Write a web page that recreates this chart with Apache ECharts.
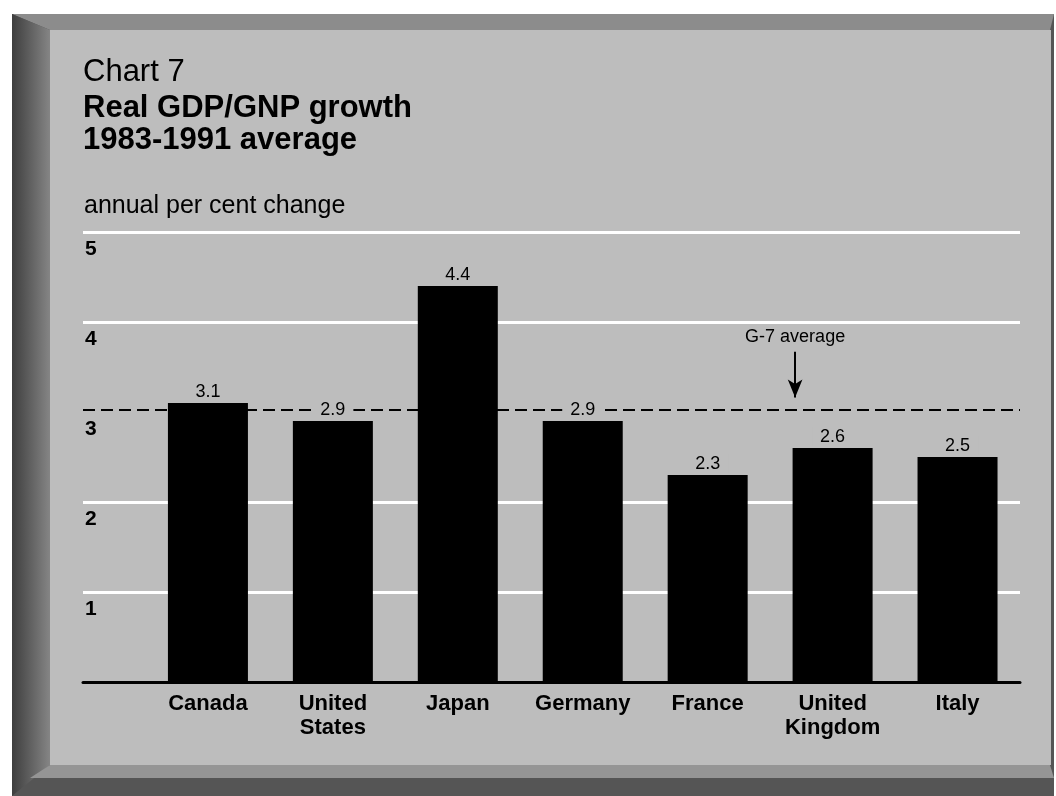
<!DOCTYPE html>
<html>
<head>
<meta charset="utf-8">
<script src="https://cdn.jsdelivr.net/npm/echarts@6/dist/echarts.min.js"></script>
<style>
  html, body { margin: 0; padding: 0; background: #fff; }
  #chart { width: 1056px; height: 796px; }
</style>
</head>
<body>
<div id="chart"></div>
<script>
// data
const countries = ["Canada", "United\nStates", "Japan", "Germany", "France", "United\nKingdom", "Italy"];
const growth = [3.1, 2.9, 4.4, 2.9, 2.3, 2.6, 2.5];
const g7Average = 3.03;
const yTicks = [0, 1, 2, 3, 4, 5];

const font = "'Liberation Sans', Arial, Helvetica, sans-serif";
const panel = "#bdbdbd";

const chart = echarts.init(document.getElementById("chart"));

const barData = growth.map((v, i) => [i, v]);

const option = {
  backgroundColor: "#ffffff",
  animation: false,
  textStyle: { fontFamily: font, color: "#000" },
  graphic: [
    // frame: dark base, bevels, light inner panel
    { type: "rect", z: -10, shape: { x: 12, y: 14, width: 1042, height: 782 }, style: { fill: "#555555" } },
    {
      type: "polygon", z: -9,
      shape: { points: [[12, 14], [1054, 14], [1050, 30], [50, 30]] },
      style: { fill: "#8c8c8c" }
    },
    {
      type: "polygon", z: -9,
      shape: { points: [[12, 14], [50, 30], [50, 765], [12, 796]] },
      style: {
        fill: new echarts.graphic.LinearGradient(0, 0, 1, 0, [
          { offset: 0, color: "#3e3e3e" },
          { offset: 1, color: "#858585" }
        ])
      }
    },
    {
      type: "polygon", z: -9,
      shape: { points: [[50, 765], [1050, 765], [1054, 778], [30, 778]] },
      style: { fill: "#959595" }
    },
    { type: "rect", z: -8, shape: { x: 50, y: 30, width: 1001, height: 735 }, style: { fill: panel } }
  ],
  title: [
    { text: "Chart 7", left: 83, top: 57, padding: 0,
      textStyle: { fontFamily: font, fontSize: 31, fontWeight: "normal", color: "#000" } },
    { text: "Real GDP/GNP growth", left: 83, top: 93, padding: 0,
      textStyle: { fontFamily: font, fontSize: 31, fontWeight: "bold", color: "#000" } },
    { text: "1983-1991 average", left: 83, top: 125, padding: 0,
      textStyle: { fontFamily: font, fontSize: 31, fontWeight: "bold", color: "#000" } },
    { text: "annual per cent change", left: 84, top: 194, padding: 0,
      textStyle: { fontFamily: font, fontSize: 25, fontWeight: "normal", color: "#000" } }
  ],
  grid: { left: 83, right: 36, top: 232, bottom: 114, containLabel: false },
  xAxis: {
    type: "value",
    min: -1,
    max: 6.5,
    interval: 1,
    splitLine: { show: false },
    axisTick: { show: false },
    axisLine: { show: true, onZero: false, lineStyle: { color: "#000", width: 3 } },
    axisLabel: {
      margin: 10,
      fontFamily: font,
      fontSize: 22,
      fontWeight: "bold",
      lineHeight: 24,
      color: "#000",
      showMaxLabel: true,
      formatter: v => (Number.isInteger(v) && v >= 0 && v < countries.length) ? countries[v] : ""
    }
  },
  yAxis: {
    type: "value",
    min: yTicks[0],
    max: yTicks[yTicks.length - 1],
    interval: 1,
    axisLine: { show: false },
    axisTick: { show: false },
    splitLine: {
      show: true,
      lineStyle: { color: ["#ffffff", "#ffffff", "#ffffff", "rgba(0,0,0,0)", "#ffffff", "#ffffff"], width: 3 }
    },
    axisLabel: {
      inside: true,
      margin: 2,
      showMinLabel: false,
      verticalAlign: "top",
      padding: [7, 0, 0, 0],
      fontFamily: font,
      fontSize: 21,
      fontWeight: "bold",
      color: "#000"
    }
  },
  series: [
    {
      // reference line and arrow, drawn under the bars
      type: "line",
      data: [],
      z: 1,
      markLine: {
        silent: true,
        animation: false,
        z: 1,
        symbol: ["none", "none"],
        data: [
          {
            yAxis: g7Average,
            lineStyle: { color: "#000", type: [12, 6], width: 2 },
            label: { show: false }
          },
          [
            {
              coord: [4.7, 3.67],
              symbol: "none",
              lineStyle: { color: "#000", type: "solid", width: 2 },
              label: {
                show: true,
                position: "start",
                distance: 6,
                formatter: "G-7 average",
                fontFamily: font,
                fontSize: 18,
                color: "#000"
              }
            },
            { coord: [4.7, 3.16], symbol: "arrow", symbolSize: [11, 18] }
          ]
        ]
      }
    },
    {
      type: "bar",
      data: barData,
      barWidth: 80,
      z: 3,
      itemStyle: { color: "#000" },
      label: {
        show: true,
        position: "top",
        distance: 2,
        fontFamily: font,
        fontSize: 18,
        color: "#000",
        backgroundColor: panel,
        padding: [1, 8, 0, 8],
        formatter: p => p.value[1].toFixed(1)
      }
    }
  ]
};

chart.setOption(option);
</script>
</body>
</html>
